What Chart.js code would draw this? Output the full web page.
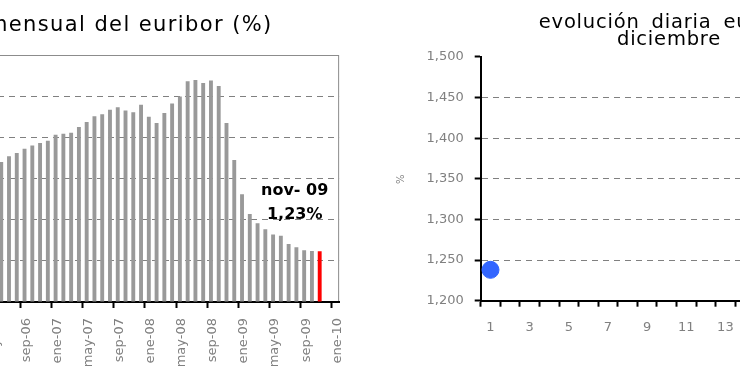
<!DOCTYPE html>
<html lang="es">
<head>
<meta charset="utf-8">
<script src="https://cdn.jsdelivr.net/npm/chart.js@4"></script>
<style>
  html, body { margin: 0; padding: 0; width: 740px; height: 389px; overflow: hidden; background: #fff; }
  .panel { position: absolute; top: 0; height: 389px; }
  #panel-mensual { left: -223px; width: 584px; }
  #panel-diario { left: 378px; width: 582px; }
</style>
</head>
<body>
<div class="panel" id="panel-mensual"><canvas id="chart-mensual"></canvas></div>
<div class="panel" id="panel-diario"><canvas id="chart-diario"></canvas></div>
<script>
// Euribor a 12 meses, media mensual (%), de ene-05 a ene-10
const MESES = ['ene', 'feb', 'mar', 'abr', 'may', 'jun', 'jul', 'ago', 'sep', 'oct', 'nov', 'dic'];
const ANIOS = ['05', '06', '07', '08', '09', '10'];
const EURIBOR_2005 = [2.31, 2.31, 2.34, 2.27, 2.19, 2.10, 2.17, 2.22, 2.22, 2.41, 2.68, 2.78];
const EURIBOR_2006 = [2.83, 2.91, 3.11, 3.22, 3.31, 3.40, 3.54, 3.62, 3.72, 3.80, 3.86, 3.92];
const EURIBOR_2007 = [4.06, 4.09, 4.11, 4.25, 4.37, 4.51, 4.56, 4.67, 4.73, 4.65, 4.61, 4.79];
const EURIBOR_2008 = [4.50, 4.35, 4.59, 4.82, 4.99, 5.36, 5.39, 5.32, 5.38, 5.25, 4.35, 3.45];
const EURIBOR_2009 = [2.62, 2.14, 1.91, 1.77, 1.64, 1.61, 1.41, 1.33, 1.26, 1.24, 1.23, null];
const EURIBOR_2010 = [null];
const MESES_CON_ETIQUETA = ['ene', 'may', 'sep'];
const MES_DESTACADO = 'nov-09';
const ROTULO_DESTACADO = ['nov- 09', '1,23%'];

// Evolución diaria en diciembre
const DIAS = ['1', '2', '3', '4', '5', '6', '7', '8', '9', '10', '11', '12',
              '13', '14', '15', '16', '17', '18', '19', '20', '21', '22', '23', '24'];
const EURIBOR_DIARIO = [1.238];

const CATEGORIAS = [];
ANIOS.forEach(a => MESES.forEach(m => CATEGORIAS.push(m + '-' + a)));
const EURIBOR_MENSUAL = [].concat(EURIBOR_2005, EURIBOR_2006, EURIBOR_2007, EURIBOR_2008, EURIBOR_2009, EURIBOR_2010);
CATEGORIAS.length = EURIBOR_MENSUAL.length;

const coloresBarras = CATEGORIAS.map(c => c === MES_DESTACADO ? '#ff0000' : '#999999');
const transparente = 'rgba(0,0,0,0)';
const fuenteEjes = { family: 'DejaVu Sans', size: 13 };

// el título del original va algo espaciado: solo se aplica antes de las barras
function espaciadoTitulo(letra, palabra) {
    return {
        id: 'espaciadoTitulo',
        beforeDraw(chart) {
            chart.ctx.letterSpacing = letra;
            chart.ctx.wordSpacing = palabra;
        },
        beforeDatasetsDraw(chart) {
            chart.ctx.letterSpacing = '0px';
            chart.ctx.wordSpacing = '0px';
        }
    };
}

// marco gris del área de trazado
const marcoArea = {
    id: 'marcoArea',
    beforeDraw(chart) {
        const { ctx, chartArea: a } = chart;
        ctx.save();
        ctx.strokeStyle = '#8c8c8c';
        ctx.lineWidth = 1;
        ctx.strokeRect(a.left + 0.5, a.top + 0.5, a.width - 1, a.height);
        ctx.restore();
    }
};

// rótulo del último dato
const rotuloUltimo = {
    id: 'rotuloUltimo',
    afterDatasetsDraw(chart) {
        const barra = chart.getDatasetMeta(0).data[CATEGORIAS.indexOf(MES_DESTACADO)];
        const y = chart.scales.y;
        const ctx = chart.ctx;
        ctx.save();
        ctx.font = 'bold 16px "DejaVu Sans"';
        ctx.fillStyle = '#000';
        ctx.textAlign = 'center';
        ctx.textBaseline = 'middle';
        ctx.fillText(ROTULO_DESTACADO[0], barra.x - 25, y.getPixelForValue(2.69));
        ctx.fillText(ROTULO_DESTACADO[1], barra.x - 25, y.getPixelForValue(2.11));
        ctx.restore();
    }
};

// 1. Gráfico mensual
new Chart(document.getElementById('chart-mensual'), {
    type: 'bar',
    data: {
        labels: CATEGORIAS,
        datasets: [{
            data: EURIBOR_MENSUAL,
            backgroundColor: coloresBarras,
            barPercentage: 0.5,
            categoryPercentage: 1
        }]
    },
    options: {
        responsive: true,
        maintainAspectRatio: false,
        animation: false,
        layout: { padding: 0 },
        plugins: {
            legend: { display: false },
            tooltip: { enabled: false },
            title: {
                display: true,
                text: 'evolución mensual del euribor (%)',
                color: '#000',
                font: { family: 'DejaVu Sans', size: 21, weight: 'normal', lineHeight: 1.15 },
                padding: { top: 13.9, bottom: 16.95 }
            }
        },
        scales: {
            x: {
                offset: true,
                grid: {
                    offset: true,
                    drawOnChartArea: false,
                    tickLength: 6,
                    tickWidth: 2,
                    tickColor: c => c.index % 4 === 0 ? '#000' : transparente
                },
                border: { color: '#000', width: 2 },
                ticks: {
                    autoSkip: false,
                    minRotation: 90,
                    maxRotation: 90,
                    padding: 10,
                    labelOffset: 2,
                    color: '#808080',
                    font: fuenteEjes,
                    z: 1,
                    callback: (v, i) => MESES_CON_ETIQUETA.includes(CATEGORIAS[i].slice(0, 3)) ? CATEGORIAS[i] : ''
                },
                afterFit: s => { s.height = 87; }
            },
            y: {
                min: 0,
                max: 6,
                grid: {
                    color: c => c.tick && c.tick.value > 0 && c.tick.value < 6 ? '#808080' : transparente,
                    tickLength: 6
                },
                border: { color: '#808080', dash: [6, 5] },
                ticks: { stepSize: 1, color: '#808080', font: fuenteEjes, z: 1 },
                afterFit: s => { s.width = 88.3; }
            },
            derecha: {
                position: 'right',
                grid: { display: false },
                border: { display: false },
                ticks: { display: false },
                afterFit: s => { s.width = 20.1; }
            }
        }
    },
    plugins: [marcoArea, espaciadoTitulo('1.4px', '0px'), rotuloUltimo]
});

// 2. Gráfico diario
new Chart(document.getElementById('chart-diario'), {
    type: 'line',
    data: {
        labels: DIAS,
        datasets: [{
            data: EURIBOR_DIARIO,
            showLine: false,
            pointRadius: 8.5,
            pointBackgroundColor: '#3366ff',
            pointBorderColor: '#3366ff',
            pointBorderWidth: 1
        }]
    },
    options: {
        responsive: true,
        maintainAspectRatio: false,
        animation: false,
        layout: { padding: 0 },
        plugins: {
            legend: { display: false },
            tooltip: { enabled: false },
            title: {
                display: true,
                text: ['evolución diaria euribor', 'diciembre'],
                color: '#000',
                font: { family: 'DejaVu Sans', size: 19.5, weight: 'normal', lineHeight: 0.92 },
                padding: { top: 13.5, bottom: 7.6 }
            }
        },
        scales: {
            x: {
                offset: true,
                grid: {
                    offset: true,
                    drawOnChartArea: false,
                    tickLength: 6,
                    tickWidth: 2,
                    tickColor: '#000'
                },
                border: { color: '#000', width: 2 },
                ticks: {
                    autoSkip: false,
                    maxRotation: 0,
                    padding: 13,
                    color: '#808080',
                    font: fuenteEjes,
                    z: 1,
                    callback: (v, i) => i % 2 === 0 ? DIAS[i] : ''
                },
                afterFit: s => { s.height = 88.3; }
            },
            y: {
                min: 1.2,
                max: 1.5,
                grid: {
                    color: c => c.tick && c.tick.value > 1.201 && c.tick.value < 1.499 ? '#808080' : transparente,
                    tickColor: '#000',
                    tickLength: 6,
                    tickWidth: 2
                },
                border: { color: '#000', width: 2, dash: [6, 5] },
                ticks: {
                    stepSize: 0.05,
                    padding: 11,
                    color: '#808080',
                    font: fuenteEjes,
                    z: 1,
                    callback: v => Number(v).toFixed(3).replace('.', ',')
                },
                title: {
                    display: true,
                    text: '%',
                    color: '#808080',
                    font: { family: 'DejaVu Sans', size: 10 },
                    padding: { top: 17.7, bottom: 0 }
                },
                afterFit: s => { s.width = 102.7; }
            }
        }
    },
    plugins: [espaciadoTitulo('0.8px', '5px')]
});
</script>
</body>
</html>
